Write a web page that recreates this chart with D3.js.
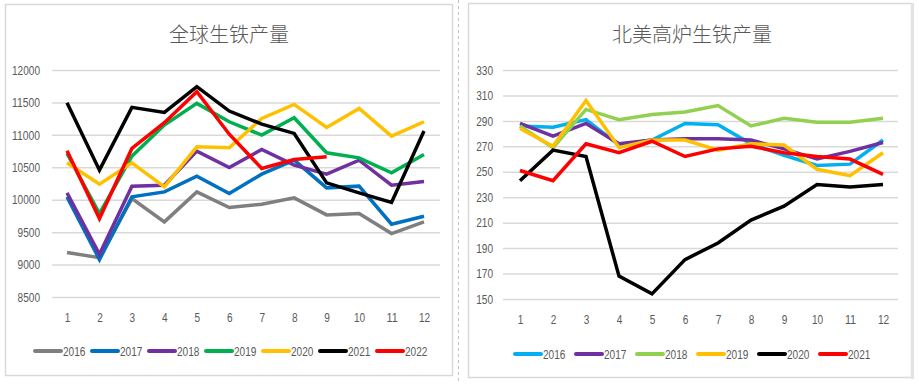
<!DOCTYPE html>
<html>
<head>
<meta charset="utf-8">
<script src="https://cdn.jsdelivr.net/npm/d3@7"></script>
<style>
  body { margin: 0; background: #fff; }
  svg { display: block; font-family: "Liberation Sans", Arial, sans-serif; }
  .tick text { fill: #595959; font-size: 13px; }
  .title { fill: #595959; font-family: "Noto Sans CJK SC", sans-serif; font-size: 20px; font-weight: 300; }
</style>
</head>
<body>
<svg id="chart"></svg>
<script>
const months = [1, 2, 3, 4, 5, 6, 7, 8, 9, 10, 11, 12]

// 全球生铁产量
const globalYears = ["2016", "2017", "2018", "2019", "2020", "2021", "2022"]
const global2016 = [9185, 9107, 10018, 9658, 10121, 9879, 9931, 10029, 9766, 9787, 9478, 9658]
const global2017 = [10044, 9077, 10044, 10121, 10363, 10096, 10394, 10610, 10183, 10209, 9622, 9746]
const global2018 = [10106, 9159, 10209, 10224, 10749, 10497, 10775, 10533, 10394, 10610, 10224, 10281]
const global2019 = [10713, 9787, 10672, 11151, 11485, 11202, 10996, 11264, 10724, 10646, 10415, 10698]
const global2020 = [10569, 10240, 10569, 10199, 10816, 10801, 11254, 11470, 11115, 11408, 10981, 11202]
const global2021 = [11496, 10456, 11424, 11346, 11743, 11367, 11166, 11022, 10260, 10106, 9957, 11058]
const global2022 = [10754, 9710, 10790, 11187, 11665, 11010, 10482, 10621, 10662]
const globalColors = ["#7f7f7f", "#0070c0", "#7030a0", "#00b050", "#ffc000", "#000000", "#ff0000"]
const globalTicks = [8500, 9000, 9500, 10000, 10500, 11000, 11500, 12000]

// 北美高炉生铁产量
const naYears = ["2016", "2017", "2018", "2019", "2020", "2021"]
const na2016 = [286, 285, 291, 271, 275, 288, 287, 272, 263, 255, 256, 275]
const na2017 = [288, 278, 288, 272, 275, 276, 276, 275, 268, 260, 266, 273]
const na2018 = [286, 269, 299, 291, 295, 297, 302, 286, 292, 289, 289, 292]
const na2019 = [284, 270, 306, 269, 275, 275, 267, 272, 271, 252, 247, 265]
const na2020 = [243, 267, 262, 168, 154, 181, 194, 212, 223, 240, 238, 240]
const na2021 = [251, 243, 272, 265, 274, 262, 268, 270, 265, 262, 260, 248]
const naColors = ["#00b0f0", "#7030a0", "#92d050", "#ffc000", "#000000", "#ff0000"]
const naTicks = [150, 170, 190, 210, 230, 250, 270, 290, 310, 330]

const W = 919, H = 384
const svg = d3.select("#chart").attr("width", W).attr("height", H)

// narrow the Arial-like digits so they look like the condensed original
const narrow = (sel) => {
  sel.attr("textLength", function() { return this.textContent.length * 5.6 })
     .attr("lengthAdjust", "spacingAndGlyphs")
}

// panel frames and divider
svg.append("rect").attr("x", 5.5).attr("y", 4.5).attr("width", 447).attr("height", 371)
  .attr("fill", "#fff").attr("stroke", "#d9d9d9").attr("stroke-width", 1.5)
svg.append("rect").attr("x", 468.5).attr("y", 3.5).attr("width", 443).attr("height", 374)
  .attr("fill", "#fff").attr("stroke", "#d9d9d9").attr("stroke-width", 1.5)
svg.append("line").attr("x1", 912.5).attr("x2", 912.5).attr("y1", 3).attr("y2", 379)
  .attr("stroke", "#e3e3e3").attr("stroke-width", 3)
svg.append("line").attr("x1", 458.5).attr("x2", 458.5).attr("y1", 0).attr("y2", H)
  .attr("stroke", "#bfbfbf").attr("stroke-dasharray", "3,3")

const drawChart = (cfg) => {
  const g = svg.append("g")
  const x = d3.scaleLinear().domain([1, 12]).range(cfg.xRange)
  const y = d3.scaleLinear().domain(cfg.yDomain).range(cfg.yRange)

  // gridlines + y labels
  const yAxis = g.append("g")
    .attr("transform", `translate(${cfg.gridX[0]},0)`)
    .call(d3.axisLeft(y).tickValues(cfg.ticks).tickSize(-(cfg.gridX[1] - cfg.gridX[0])).tickPadding(cfg.yPad).tickFormat(d3.format("d")))
  yAxis.select(".domain").remove()
  yAxis.selectAll(".tick line").attr("stroke", "#d9d9d9").attr("stroke-width", 1.5)
  yAxis.selectAll(".tick text").call(narrow)

  // x labels
  const xAxis = g.append("g")
    .attr("transform", `translate(0,${cfg.xLabelY})`)
    .call(d3.axisBottom(x).tickValues(months).tickSize(0).tickFormat(d3.format("d")))
  xAxis.select(".domain").remove()
  xAxis.selectAll(".tick text").call(narrow)

  const line = d3.line().x((d, i) => x(months[i])).y(d => y(d))
  g.append("g").selectAll("path")
    .data(cfg.series)
    .enter()
    .append("path")
    .attr("d", d => line(d))
    .attr("fill", "none")
    .attr("stroke", (d, i) => cfg.colors[i])
    .attr("stroke-width", 3.5)
    .attr("stroke-linejoin", "miter")

  g.append("text").attr("class", "title")
    .attr("x", cfg.titleX).attr("y", 42).attr("text-anchor", "middle")
    .text(cfg.title)

  // legend
  const leg = g.append("g").selectAll("g")
    .data(cfg.years)
    .enter()
    .append("g")
    .attr("transform", (d, i) => `translate(${cfg.legX + i * cfg.legStep},${cfg.legY})`)
  leg.append("line").attr("x1", 0).attr("x2", 26).attr("y1", 0).attr("y2", 0)
    .attr("stroke", (d, i) => cfg.colors[i]).attr("stroke-width", 4).attr("stroke-linecap", "round")
  leg.append("text").attr("x", 28).attr("y", 5)
    .attr("fill", "#595959").attr("font-size", "13px")
    .text(d => d)
    .call(narrow)
}

drawChart({
  title: "全球生铁产量",
  titleX: 229,
  years: globalYears,
  series: [global2016, global2017, global2018, global2019, global2020, global2021, global2022],
  colors: globalColors,
  ticks: globalTicks,
  yDomain: [8500, 12000],
  yRange: [297, 70],
  xRange: [67, 424],
  gridX: [52, 440],
  yPad: 12,
  xLabelY: 310,
  legX: 35,
  legY: 351,
  legStep: 57
})

drawChart({
  title: "北美高炉生铁产量",
  titleX: 692,
  years: naYears,
  series: [na2016, na2017, na2018, na2019, na2020, na2021],
  colors: naColors,
  ticks: naTicks,
  yDomain: [150, 330],
  yRange: [299, 70],
  xRange: [520, 883],
  gridX: [503, 898],
  yPad: 10,
  xLabelY: 312,
  legX: 515,
  legY: 354,
  legStep: 61
})
</script>
</body>
</html>
